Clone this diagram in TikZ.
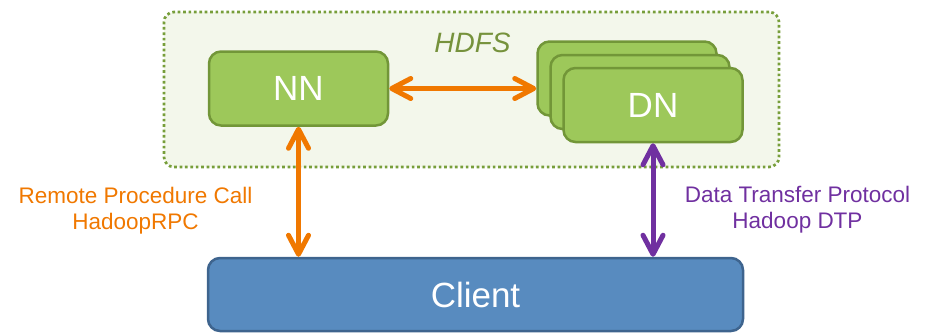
\documentclass[tikz,border=0pt]{standalone}
\usepackage{fontspec}
\setmainfont{Liberation Sans}
\usetikzlibrary{arrows.meta}

\definecolor{hdfsfill}{RGB}{243,247,235}
\definecolor{hdfsline}{RGB}{119,158,58}
\definecolor{hdfstext}{RGB}{118,146,60}
\definecolor{nodefill}{RGB}{157,200,90}
\definecolor{nodeline}{RGB}{114,150,56}
\definecolor{clientfill}{RGB}{88,139,191}
\definecolor{clientline}{RGB}{62,100,142}
\definecolor{rpcorange}{RGB}{240,120,0}
\definecolor{dtppurple}{RGB}{112,48,160}

\tikzset{
  x=1pt, y=-1pt,
  hdfsbox/.style={draw=hdfsline, fill=hdfsfill, line width=2.7pt,
    dash pattern=on 2.7pt off 2.7pt, rounded corners=10pt,
    minimum width=615pt, minimum height=155pt, inner sep=0pt},
  greenbox/.style={draw=nodeline, fill=nodefill, line width=2.5pt,
    rounded corners=12pt, minimum width=179pt, minimum height=74pt,
    inner sep=0pt, text=white, font=\fontsize{35}{42}\selectfont},
  clientbox/.style={draw=clientline, fill=clientfill, line width=2.5pt,
    rounded corners=12pt, minimum width=535pt, minimum height=73pt,
    inner sep=0pt, text=white, font=\fontsize{35}{42}\selectfont},
  link/.style={line width=5pt,
    {Straight Barb[length=19pt, width=20pt, round]}-{Straight Barb[length=19pt, width=20pt, round]}},
  label/.style={inner sep=0pt, anchor=base, font=\fontsize{22.5}{26}\selectfont},
}

\begin{document}
\begin{tikzpicture}
  \useasboundingbox (0,0) rectangle (926,333);

  % HDFS cluster frame
  \node[hdfsbox] (hdfs) at (471.5,89.5) {};
  \node[inner sep=0pt, anchor=base, text=hdfstext,
        font=\fontsize{28}{34}\selectfont\itshape] (hdfslabel) at (472.5,52) {HDFS};

  % NameNode
  \node[greenbox] (nn) at (298.5,88.5) {NN};

  % stack of DataNodes
  \node[greenbox] (dn3) at (627,78.5) {};
  \node[greenbox] (dn2) at (640,92) {};
  \node[greenbox] (dn) at (653,105) {DN};

  % Client
  \node[clientbox] (client) at (475.5,294.5) {Client};

  % connections
  \draw[link, rpcorange] (nn.east) -- (nn.east -| dn3.west);
  \draw[link, rpcorange] (nn.south) -- (nn.south |- client.north);
  \draw[link, dtppurple] (dn.south) -- (dn.south |- client.north);

  % protocol labels
  \node[label, text=rpcorange] (rpc1) at (135.5,203) {Remote Procedure Call};
  \node[label, text=rpcorange] (rpc2) at (135.5,229) {HadoopRPC};
  \node[label, text=dtppurple] (dtp1) at (797.5,202) {Data Transfer Protocol};
  \node[label, text=dtppurple] (dtp2) at (797.5,228) {Hadoop DTP};
\end{tikzpicture}
\end{document}
